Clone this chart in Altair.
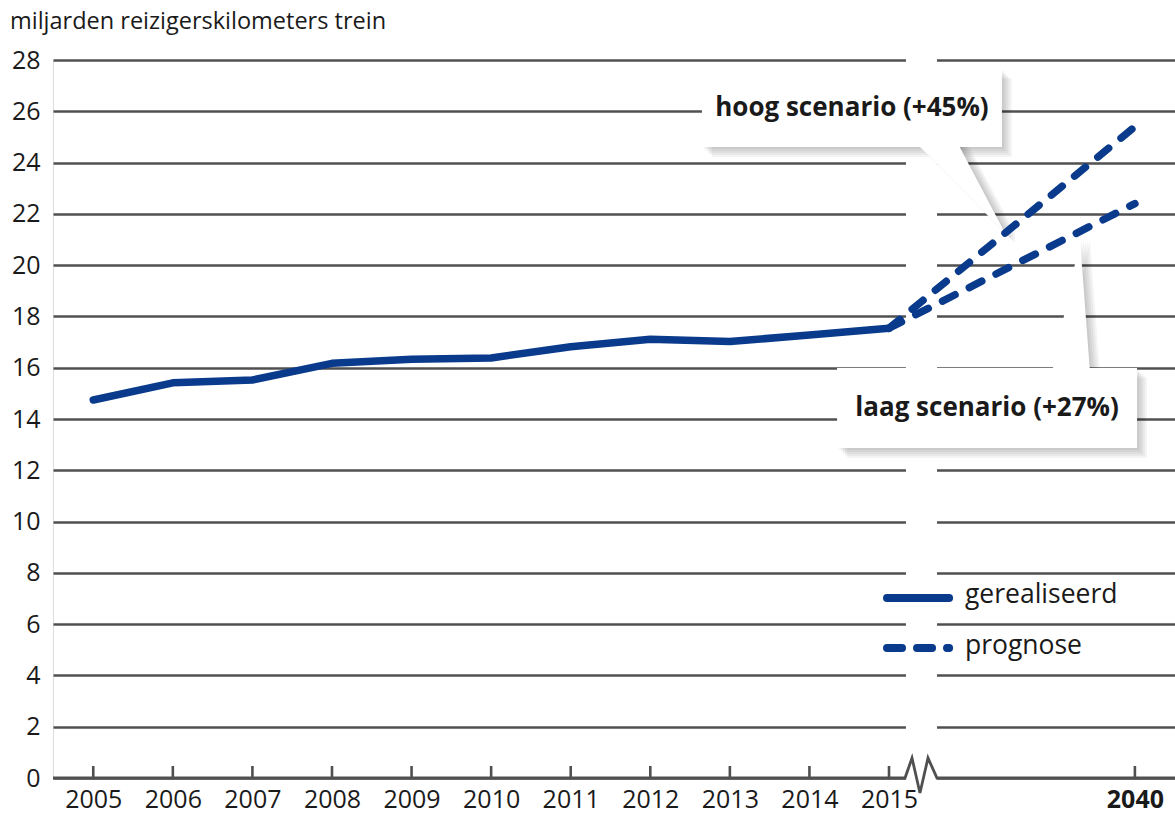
import json
import altair as alt
import pandas as pd

# ---------------- data ----------------
years = [2005, 2006, 2007, 2008, 2009, 2010, 2011, 2012, 2013, 2014, 2015]
realized = [14.74, 15.41, 15.52, 16.17, 16.33, 16.38, 16.82, 17.11, 17.02, 17.28, 17.54]
forecast_years = [2015, 2040]
high_scenario = [17.54, 25.4]
low_scenario = [17.54, 22.4]
y_ticks = [0, 2, 4, 6, 8, 10, 12, 14, 16, 18, 20, 22, 24, 26, 28]
x_tick_labels = ["2005", "2006", "2007", "2008", "2009", "2010", "2011",
                 "2012", "2013", "2014", "2015", "2040"]
callout_texts = ["hoog scenario (+45%)", "laag scenario (+27%)"]
legend_labels = ["gerealiseerd", "prognose"]
y_title = "miljarden reizigerskilometers trein"

# ---------------- layout ----------------
W, H = 1122, 718
BREAK_POS = 13.09          # axis position of 2040 (after the axis break)
X_DOMAIN = [-0.506, 13.594]
BLUE = "#0a3a8c"
GRID = "#505050"
TXT = "#1a1a1a"
FONT = "Open Sans"


def pos(year):
    return year - 2005 if year <= 2015 else BREAK_POS


tick_pos = [pos(y) for y in years] + [BREAK_POS]

xs = alt.Scale(domain=X_DOMAIN, nice=False, zero=False)
ys = alt.Scale(domain=[0, 28], nice=False, zero=False)


def X(f, **kw):
    return alt.X(f, type="quantitative", scale=xs, **kw)


def Y(f, **kw):
    return alt.Y(f, type="quantitative", scale=ys, **kw)


df_real = pd.DataFrame({"pos": [pos(y) for y in years], "value": realized})
df_fc = pd.DataFrame({
    "pos": [pos(y) for y in forecast_years] * 2,
    "value": high_scenario + low_scenario,
    "s": ["hoog"] * 2 + ["laag"] * 2,
})

# break band in gridlines
df_gap = pd.DataFrame({"x": [10.213], "x2": [10.603], "y": [-0.15], "y2": [28.15]})
# baseline with zigzag break
df_base = pd.DataFrame({
    "o": list(range(7)),
    "x": [X_DOMAIN[0], 10.201, 10.289, 10.389, 10.490, 10.603, X_DOMAIN[1]],
    "y": [0, 0, 0.78, -0.585, 0.78, 0, 0],
})
df_ticks = pd.DataFrame({"x": tick_pos, "y": [0] * len(tick_pos)})

# callout boxes
df_box = pd.DataFrame({
    "x": [7.649, 9.347], "x2": [11.419, 13.117],
    "y": [27.65, 15.99], "y2": [24.61, 12.87],
    "label": callout_texts,
})
df_box["cx"] = (df_box.x + df_box.x2) / 2
df_box["cy"] = (df_box.y + df_box.y2) / 2


def tri_rows(pts, tid):
    rows = []
    edges = [(pts[0], pts[1]), (pts[1], pts[2]), (pts[2], pts[0])]
    for x in sorted(p[0] for p in pts):
        yv = []
        for p, q in edges:
            if p[0] == q[0]:
                if abs(p[0] - x) < 1e-9:
                    yv += [p[1], q[1]]
                continue
            lo, hi = min(p[0], q[0]), max(p[0], q[0])
            if lo - 1e-9 <= x <= hi + 1e-9:
                t = (x - p[0]) / (q[0] - p[0])
                yv.append(p[1] + t * (q[1] - p[1]))
        rows.append({"id": tid, "x": x, "lo": min(yv), "hi": max(yv)})
    return rows


df_tri = pd.DataFrame(
    tri_rows([(10.327, 24.8), (10.855, 24.8), (11.458, 21.25)], "hoog")
    + tri_rows([(12.048, 15.8), (12.526, 15.8), (12.40, 20.98)], "laag")
)

# legend
df_leg_line = pd.DataFrame({"x": [9.975], "x2": [10.755], "y": [7.02]})
df_leg_dash = pd.DataFrame({"x": [9.975], "x2": [10.755], "y": [5.07]})
df_leg_text = pd.DataFrame({"x": [10.954, 10.954], "y": [7.12, 5.15], "t": legend_labels})

layers = []

# white gap band across the gridlines
layers.append(alt.Chart(df_gap).mark_rect(color="white").encode(
    x=X("x"), x2="x2", y=Y("y"), y2="y2"))

# baseline with zigzag
layers.append(alt.Chart(df_base).mark_line(
    color=GRID, strokeWidth=2.8, strokeJoin="miter").encode(
    x=X("x"), y=Y("y"), order="o:Q"))

# inward ticks
layers.append(alt.Chart(df_ticks).mark_rule(
    color=GRID, strokeWidth=2.6, y2Offset=-12).encode(
    x=X("x"), y=Y("y"), y2="y"))

# shadows
for d in [2, 4, 6, 8, 10]:
    layers.append(alt.Chart(df_box).mark_rect(
        color="black", opacity=0.045, xOffset=d, x2Offset=d, yOffset=d, y2Offset=d).encode(
        x=X("x"), x2="x2", y=Y("y"), y2="y2"))
    layers.append(alt.Chart(df_tri).mark_area(
        color="black", opacity=0.045, xOffset=d, yOffset=d).encode(
        x=X("x"), y=Y("lo", stack=None), y2="hi", detail="id:N"))

# white callouts
layers.append(alt.Chart(df_tri).mark_area(color="white").encode(
    x=X("x"), y=Y("lo", stack=None), y2="hi", detail="id:N"))
layers.append(alt.Chart(df_box).mark_rect(color="white").encode(
    x=X("x"), x2="x2", y=Y("y"), y2="y2"))
layers.append(alt.Chart(df_box).mark_text(
    font=FONT, fontSize=26, fontWeight="bold", color=TXT,
    align="center", baseline="middle").encode(
    x=X("cx"), y=Y("cy"), text="label:N"))

# realized line (carries the axes)
layers.append(alt.Chart(df_real).mark_line(
    color=BLUE, strokeWidth=7.5, strokeCap="round", strokeJoin="round").encode(
    x=X("pos", axis=alt.Axis(
        values=tick_pos, title=None, grid=False, domain=False, ticks=False,
        labelExpr=json.dumps(x_tick_labels) + "[round(datum.value) > 10 ? 11 : round(datum.value)]",
        labelFont=FONT, labelFontSize=25, labelColor=TXT, labelPadding=9,
        labelFlush=False, labelOverlap=False,
        labelFontWeight={"condition": {"test": "datum.value > 12", "value": "bold"},
                         "value": "normal"})),
    y=Y("value", axis=alt.Axis(
        values=y_ticks, title=None, grid=True, gridColor=GRID, gridWidth=2.6,
        domain=False, ticks=False, labelFont=FONT, labelFontSize=25,
        labelColor=TXT, labelPadding=13, labelFlush=False, labelOverlap=False,
        format="d")),
))

# forecast lines
layers.append(alt.Chart(df_fc).mark_line(
    color=BLUE, strokeWidth=7.5, strokeCap="round", strokeJoin="round",
    strokeDash=[14, 16]).encode(
    x=X("pos"), y=Y("value"), detail="s:N"))

# legend
layers.append(alt.Chart(df_leg_line).mark_rule(
    color=BLUE, strokeWidth=8, strokeCap="round").encode(
    x=X("x"), x2="x2", y=Y("y")))
layers.append(alt.Chart(df_leg_dash).mark_rule(
    color=BLUE, strokeWidth=8, strokeCap="round", strokeDash=[15, 15]).encode(
    x=X("x"), x2="x2", y=Y("y")))
layers.append(alt.Chart(df_leg_text).mark_text(
    font=FONT, fontSize=26.5, color=TXT, align="left", baseline="middle").encode(
    x=X("x"), y=Y("y"), text="t:N"))

# y title
layers.append(alt.Chart(pd.DataFrame({"t": [y_title]})).mark_text(
    font=FONT, fontSize=23.5, color=TXT, align="left", baseline="middle").encode(
    x=alt.value(-43), y=alt.value(-38), text="t:N"))

chart = alt.layer(*layers).properties(
    width=W, height=H,
    autosize=alt.AutoSizeParams(type="none"),
    padding={"left": 53, "top": 60, "right": 0, "bottom": 37},
).configure_view(stroke=None).configure(background="white")

chart.save("out.html", embed_options={"renderer": "svg", "actions": False})
